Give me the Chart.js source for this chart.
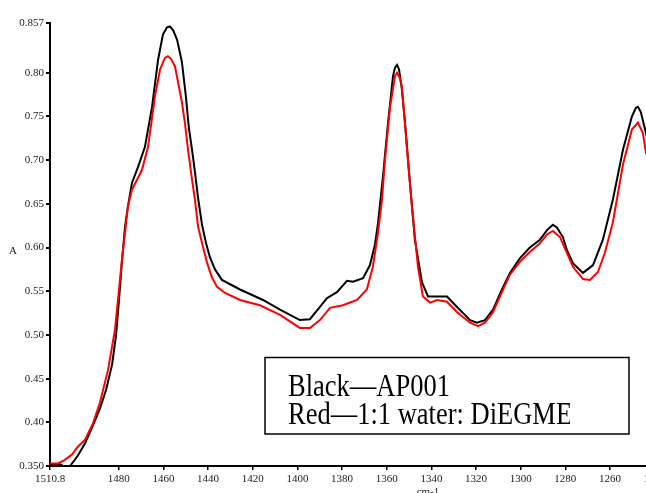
<!DOCTYPE html>
<html>
<head>
<meta charset="utf-8">
<script src="https://cdn.jsdelivr.net/npm/chart.js@4/dist/chart.umd.min.js"></script>
<style>
  html, body { margin: 0; padding: 0; background: #fff; overflow: hidden; }
  #wrap { width: 700px; height: 493px; }
</style>
</head>
<body>
<div id="wrap"><canvas id="espectro" width="700" height="493"></canvas></div>
<script>
// Espectro IR (absorbância x número de onda)
const numOndaPreto = [1510.8, 1506.3, 1504.1, 1501.8, 1498.3, 1495.1, 1492.0, 1488.4, 1485.7, 1483.0,
    1481.2, 1479.9, 1478.6, 1477.2, 1475.9, 1474.1, 1471.4, 1468.3, 1465.1, 1462.4,
    1460.2, 1458.4, 1457.1, 1455.7, 1453.9, 1451.7, 1449.9, 1448.6, 1447.2, 1445.9,
    1444.5, 1442.7, 1440.9, 1439.2, 1436.9, 1433.8, 1425.7, 1415.4, 1407.8, 1398.9,
    1394.4, 1389.9, 1386.8, 1382.3, 1377.8, 1375.1, 1370.6, 1367.5, 1365.3, 1363.9,
    1361.7, 1359.4, 1357.2, 1356.3, 1355.4, 1354.5, 1353.2, 1351.8, 1349.6, 1347.4,
    1344.2, 1341.5, 1333.0, 1328.5, 1325.0, 1322.7, 1319.6, 1316.0, 1312.4, 1308.4,
    1304.8, 1300.3, 1295.9, 1291.4, 1288.2, 1285.6, 1283.8, 1281.1, 1279.3, 1276.6,
    1272.1, 1267.6, 1263.2, 1258.7, 1254.2, 1250.2, 1248.4, 1247.5, 1246.2, 1243.9,
    1242.1, 1238.0];
const absPreto = [0.352, 0.352, 0.349, 0.350, 0.362, 0.376, 0.394, 0.416, 0.437, 0.466,
    0.500, 0.540, 0.583, 0.624, 0.647, 0.674, 0.692, 0.715, 0.761, 0.815,
    0.844, 0.852, 0.853, 0.849, 0.838, 0.812, 0.772, 0.737, 0.712, 0.687,
    0.657, 0.626, 0.605, 0.589, 0.575, 0.563, 0.552, 0.540, 0.529, 0.517,
    0.518, 0.532, 0.542, 0.549, 0.562, 0.561, 0.565, 0.580, 0.603, 0.628,
    0.681, 0.743, 0.796, 0.806, 0.809, 0.804, 0.781, 0.743, 0.674, 0.609,
    0.560, 0.544, 0.544, 0.532, 0.523, 0.517, 0.514, 0.517, 0.529, 0.552,
    0.571, 0.588, 0.600, 0.609, 0.620, 0.626, 0.623, 0.612, 0.597, 0.582,
    0.571, 0.580, 0.609, 0.655, 0.712, 0.750, 0.760, 0.761, 0.755, 0.731,
    0.712, 0.680];

const numOndaVermelho = [1510.8, 1507.2, 1504.1, 1501.0, 1498.3, 1495.1, 1491.5, 1488.4, 1484.8, 1481.7,
    1479.9, 1478.6, 1477.2, 1475.9, 1474.1, 1469.6, 1466.9, 1463.8, 1461.5, 1459.3,
    1458.0, 1456.6, 1454.8, 1451.7, 1450.3, 1449.0, 1447.2, 1445.9, 1444.5, 1442.7,
    1440.5, 1438.3, 1436.0, 1432.4, 1425.7, 1416.8, 1407.8, 1398.9, 1394.4, 1389.9,
    1385.4, 1379.6, 1373.3, 1368.9, 1366.2, 1363.9, 1362.1, 1360.8, 1358.5, 1356.3,
    1355.4, 1354.1, 1353.2, 1350.9, 1348.7, 1346.0, 1343.8, 1340.6, 1337.5, 1333.0,
    1328.5, 1322.7, 1319.1, 1316.0, 1312.4, 1308.4, 1304.8, 1300.3, 1295.9, 1291.4,
    1288.2, 1285.6, 1282.4, 1279.3, 1276.6, 1272.1, 1269.0, 1265.4, 1262.3, 1258.7,
    1254.2, 1250.2, 1247.5, 1245.3, 1243.9, 1238.0];
const absVermelho = [0.353, 0.353, 0.357, 0.363, 0.372, 0.380, 0.399, 0.423, 0.460, 0.506,
    0.552, 0.586, 0.617, 0.647, 0.666, 0.689, 0.715, 0.773, 0.804, 0.817,
    0.819, 0.816, 0.807, 0.766, 0.741, 0.712, 0.678, 0.655, 0.624, 0.605,
    0.583, 0.566, 0.555, 0.548, 0.540, 0.534, 0.523, 0.508, 0.508, 0.517,
    0.531, 0.534, 0.540, 0.552, 0.578, 0.617, 0.655, 0.700, 0.761, 0.796,
    0.800, 0.794, 0.784, 0.712, 0.647, 0.578, 0.544, 0.537, 0.540, 0.538,
    0.526, 0.514, 0.510, 0.514, 0.526, 0.549, 0.569, 0.584, 0.595, 0.605,
    0.615, 0.619, 0.612, 0.594, 0.578, 0.564, 0.563, 0.572, 0.594, 0.629,
    0.695, 0.735, 0.743, 0.731, 0.709, 0.660];

const xTicks = [1510.8, 1480, 1460, 1440, 1420, 1400, 1380, 1360, 1340, 1320, 1300, 1280, 1260, 1240];
const xTickLabels = ['1510.8', '1480', '1460', '1440', '1420', '1400', '1380', '1360', '1340', '1320', '1300', '1280', '1260', '1240'];
const yTicks = [0.35, 0.40, 0.45, 0.50, 0.55, 0.60, 0.65, 0.70, 0.75, 0.80, 0.857];
const yTickLabels = ['0.350', '0.40', '0.45', '0.50', '0.55', '0.60', '0.65', '0.70', '0.75', '0.80', '0.857'];

const legendaLinhas = ['Black\u2014AP001', 'Red\u20141:1 water: DiEGME'];

function pares(xs, ys){
    return xs.map((x, i) => ({ x: x, y: ys[i] }));
}

// rótulos "A", "cm-1" e a caixa de legenda
const anotacoes = {
    id: 'anotacoes',
    afterDraw(chart){
        const ctx = chart.ctx;
        ctx.save();
        ctx.fillStyle = '#222';
        ctx.font = '11px "Liberation Serif", serif';
        ctx.textAlign = 'center';
        ctx.textBaseline = 'middle';
        ctx.fillText('A', 13, 251);
        ctx.textBaseline = 'top';
        ctx.fillText('cm-1', 428, 487);

        // caixa
        ctx.strokeStyle = '#000';
        ctx.lineWidth = 1.5;
        ctx.strokeRect(265, 357.5, 364, 76.5);

        ctx.beginPath();
        ctx.rect(266, 359, 304, 74);
        ctx.clip();
        ctx.fillStyle = '#000';
        ctx.textAlign = 'left';
        ctx.textBaseline = 'alphabetic';
        ctx.font = '26.5px "Liberation Serif", serif';
        legendaLinhas.forEach((txt, i) => {
            ctx.save();
            ctx.translate(288, 396 + i * 28);
            ctx.scale(1, 1.2);
            ctx.fillText(txt, 0, 0);
            ctx.restore();
        });
        ctx.restore();
    }
};

const fonteEixo = { family: '"Liberation Serif", serif', size: 11 };

new Chart(document.getElementById('espectro'), {
    type: 'line',
    data: {
        datasets: [
            {
                label: 'Red',
                data: pares(numOndaVermelho, absVermelho),
                borderColor: '#ff0000',
                borderWidth: 2,
                pointRadius: 0,
                tension: 0,
                fill: false
            },
            {
                label: 'Black',
                data: pares(numOndaPreto, absPreto),
                borderColor: '#000000',
                borderWidth: 2,
                pointRadius: 0,
                tension: 0,
                fill: false
            }
        ]
    },
    options: {
        responsive: false,
        animation: false,
        layout: { padding: { top: 23, left: 0, right: 0, bottom: 0 } },
        plugins: { legend: { display: false }, tooltip: { enabled: false } },
        scales: {
            x: {
                type: 'linear',
                reverse: true,
                min: 1219.7,
                max: 1510.8,
                afterBuildTicks(scale){ scale.ticks = xTicks.map(v => ({ value: v })); },
                afterFit(scale){ scale.height = 27; },
                ticks: {
                    autoSkip: false,
                    maxRotation: 0,
                    padding: 3,
                    color: '#222',
                    font: fonteEixo,
                    callback: (v, i) => xTickLabels[i]
                },
                grid: { drawOnChartArea: false, tickLength: 4, color: '#000', lineWidth: 1.5 },
                border: { color: '#000', width: 2 }
            },
            y: {
                min: 0.35,
                max: 0.857,
                afterBuildTicks(scale){ scale.ticks = yTicks.map(v => ({ value: v })); },
                afterFit(scale){ scale.width = 50; },
                ticks: {
                    autoSkip: false,
                    padding: 2,
                    color: '#222',
                    font: fonteEixo,
                    callback: (v, i) => yTickLabels[i]
                },
                grid: { drawOnChartArea: false, tickLength: 4, color: '#000', lineWidth: 2 },
                border: { color: '#000', width: 2 }
            }
        }
    },
    plugins: [anotacoes]
});
</script>
</body>
</html>
